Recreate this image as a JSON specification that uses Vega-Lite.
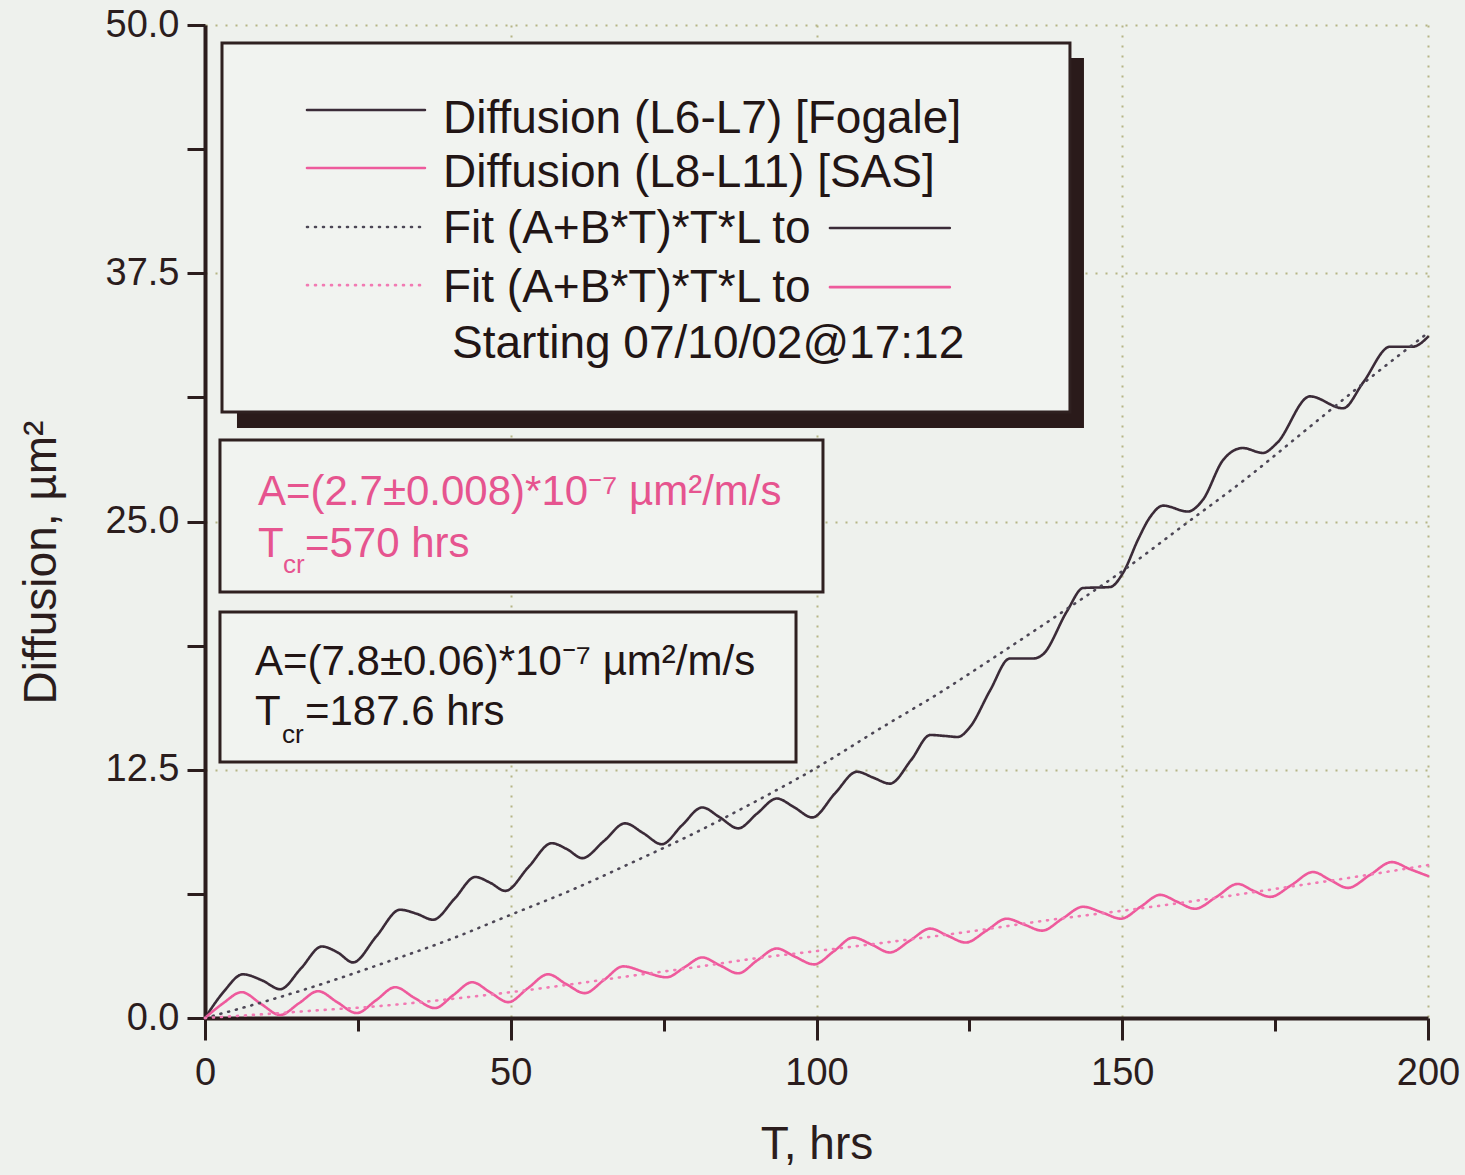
{
  "$schema": "https://vega.github.io/schema/vega-lite/v6.json",
  "width": 1223,
  "height": 993,
  "autosize": "none",
  "padding": {"left": 205, "top": 25, "right": 37, "bottom": 157},
  "background": "#eef1ed",
  "config": {"view": {"stroke": null}, "font": "Liberation Sans"},
  "datasets": {
    "shadow": [{"x1": 5.23, "x2": 143.74, "y1": 48.34, "y2": 29.71}],
    "boxes": [
      {"x1": 2.78, "x2": 141.45, "y1": 49.09, "y2": 30.51},
      {"x1": 2.45, "x2": 101.06, "y1": 29.1, "y2": 21.45},
      {"x1": 2.45, "x2": 96.65, "y1": 20.44, "y2": 12.89}
    ],
    "curves": [
      {"T": 0, "D": 0, "s": "L6-L7"},
      {"T": 3, "D": 1.3, "s": "L6-L7"},
      {"T": 6.2, "D": 2.2, "s": "L6-L7"},
      {"T": 9.3, "D": 1.9, "s": "L6-L7"},
      {"T": 12.3, "D": 1.45, "s": "L6-L7"},
      {"T": 15.7, "D": 2.5, "s": "L6-L7"},
      {"T": 19.1, "D": 3.6, "s": "L6-L7"},
      {"T": 21.7, "D": 3.3, "s": "L6-L7"},
      {"T": 24.2, "D": 2.8, "s": "L6-L7"},
      {"T": 28, "D": 4.1, "s": "L6-L7"},
      {"T": 31.9, "D": 5.45, "s": "L6-L7"},
      {"T": 34.6, "D": 5.25, "s": "L6-L7"},
      {"T": 37.3, "D": 4.95, "s": "L6-L7"},
      {"T": 40.8, "D": 6.0, "s": "L6-L7"},
      {"T": 44.2, "D": 7.1, "s": "L6-L7"},
      {"T": 46.7, "D": 6.8, "s": "L6-L7"},
      {"T": 49.1, "D": 6.4, "s": "L6-L7"},
      {"T": 52.9, "D": 7.6, "s": "L6-L7"},
      {"T": 56.7, "D": 8.8, "s": "L6-L7"},
      {"T": 59.2, "D": 8.5, "s": "L6-L7"},
      {"T": 61.7, "D": 8.05, "s": "L6-L7"},
      {"T": 65.2, "D": 8.9, "s": "L6-L7"},
      {"T": 68.7, "D": 9.8, "s": "L6-L7"},
      {"T": 71.7, "D": 9.3, "s": "L6-L7"},
      {"T": 74.7, "D": 8.75, "s": "L6-L7"},
      {"T": 78, "D": 9.7, "s": "L6-L7"},
      {"T": 81.3, "D": 10.6, "s": "L6-L7"},
      {"T": 84.2, "D": 10.1, "s": "L6-L7"},
      {"T": 87.2, "D": 9.55, "s": "L6-L7"},
      {"T": 90.3, "D": 10.3, "s": "L6-L7"},
      {"T": 93.5, "D": 11.05, "s": "L6-L7"},
      {"T": 96.4, "D": 10.6, "s": "L6-L7"},
      {"T": 99.3, "D": 10.1, "s": "L6-L7"},
      {"T": 103, "D": 11.3, "s": "L6-L7"},
      {"T": 106.6, "D": 12.4, "s": "L6-L7"},
      {"T": 109.3, "D": 12.1, "s": "L6-L7"},
      {"T": 112, "D": 11.8, "s": "L6-L7"},
      {"T": 115.5, "D": 13.0, "s": "L6-L7"},
      {"T": 118.6, "D": 14.25, "s": "L6-L7"},
      {"T": 121, "D": 14.2, "s": "L6-L7"},
      {"T": 123.1, "D": 14.15, "s": "L6-L7"},
      {"T": 125.1, "D": 14.65, "s": "L6-L7"},
      {"T": 128.4, "D": 16.5, "s": "L6-L7"},
      {"T": 131.6, "D": 18.1, "s": "L6-L7"},
      {"T": 135.4, "D": 18.1, "s": "L6-L7"},
      {"T": 137, "D": 18.3, "s": "L6-L7"},
      {"T": 141, "D": 20.5, "s": "L6-L7"},
      {"T": 143.6, "D": 21.65, "s": "L6-L7"},
      {"T": 148, "D": 21.7, "s": "L6-L7"},
      {"T": 150.2, "D": 22.45, "s": "L6-L7"},
      {"T": 152.6, "D": 24.1, "s": "L6-L7"},
      {"T": 154.5, "D": 25.2, "s": "L6-L7"},
      {"T": 156.7, "D": 25.8, "s": "L6-L7"},
      {"T": 160.7, "D": 25.5, "s": "L6-L7"},
      {"T": 163.2, "D": 26.1, "s": "L6-L7"},
      {"T": 166.5, "D": 28.1, "s": "L6-L7"},
      {"T": 169.7, "D": 28.7, "s": "L6-L7"},
      {"T": 173, "D": 28.45, "s": "L6-L7"},
      {"T": 175.3, "D": 28.95, "s": "L6-L7"},
      {"T": 180.7, "D": 31.3, "s": "L6-L7"},
      {"T": 186.1, "D": 30.7, "s": "L6-L7"},
      {"T": 189.4, "D": 32.0, "s": "L6-L7"},
      {"T": 193.8, "D": 33.8, "s": "L6-L7"},
      {"T": 197.5, "D": 33.8, "s": "L6-L7"},
      {"T": 200, "D": 34.3, "s": "L6-L7"},

      {"T": 0, "D": 0, "s": "L8-L11"},
      {"T": 3, "D": 0.75, "s": "L8-L11"},
      {"T": 6.0, "D": 1.3, "s": "L8-L11"},
      {"T": 9.2, "D": 0.7, "s": "L8-L11"},
      {"T": 12.3, "D": 0.15, "s": "L8-L11"},
      {"T": 15.4, "D": 0.75, "s": "L8-L11"},
      {"T": 18.5, "D": 1.35, "s": "L8-L11"},
      {"T": 21.6, "D": 0.8, "s": "L8-L11"},
      {"T": 24.8, "D": 0.25, "s": "L8-L11"},
      {"T": 28, "D": 0.9, "s": "L8-L11"},
      {"T": 31.1, "D": 1.55, "s": "L8-L11"},
      {"T": 34.3, "D": 1.0, "s": "L8-L11"},
      {"T": 37.6, "D": 0.5, "s": "L8-L11"},
      {"T": 40.6, "D": 1.15, "s": "L8-L11"},
      {"T": 43.7, "D": 1.8, "s": "L8-L11"},
      {"T": 46.6, "D": 1.3, "s": "L8-L11"},
      {"T": 49.6, "D": 0.8, "s": "L8-L11"},
      {"T": 52.8, "D": 1.5, "s": "L8-L11"},
      {"T": 56.1, "D": 2.2, "s": "L8-L11"},
      {"T": 59.1, "D": 1.7, "s": "L8-L11"},
      {"T": 62.1, "D": 1.25, "s": "L8-L11"},
      {"T": 65.2, "D": 1.9, "s": "L8-L11"},
      {"T": 68.4, "D": 2.6, "s": "L8-L11"},
      {"T": 72, "D": 2.3, "s": "L8-L11"},
      {"T": 75.5, "D": 2.05, "s": "L8-L11"},
      {"T": 78.4, "D": 2.55, "s": "L8-L11"},
      {"T": 81.3, "D": 3.05, "s": "L8-L11"},
      {"T": 84.2, "D": 2.65, "s": "L8-L11"},
      {"T": 87.2, "D": 2.25, "s": "L8-L11"},
      {"T": 90.3, "D": 2.9, "s": "L8-L11"},
      {"T": 93.5, "D": 3.5, "s": "L8-L11"},
      {"T": 96.4, "D": 3.1, "s": "L8-L11"},
      {"T": 99.6, "D": 2.7, "s": "L8-L11"},
      {"T": 102.8, "D": 3.35, "s": "L8-L11"},
      {"T": 106, "D": 4.05, "s": "L8-L11"},
      {"T": 109, "D": 3.7, "s": "L8-L11"},
      {"T": 112, "D": 3.3, "s": "L8-L11"},
      {"T": 115.3, "D": 3.9, "s": "L8-L11"},
      {"T": 118.6, "D": 4.5, "s": "L8-L11"},
      {"T": 121.4, "D": 4.15, "s": "L8-L11"},
      {"T": 124.4, "D": 3.8, "s": "L8-L11"},
      {"T": 127.8, "D": 4.4, "s": "L8-L11"},
      {"T": 131.1, "D": 5.0, "s": "L8-L11"},
      {"T": 134, "D": 4.7, "s": "L8-L11"},
      {"T": 136.9, "D": 4.4, "s": "L8-L11"},
      {"T": 140.2, "D": 5.0, "s": "L8-L11"},
      {"T": 143.6, "D": 5.6, "s": "L8-L11"},
      {"T": 146.8, "D": 5.3, "s": "L8-L11"},
      {"T": 149.8, "D": 5.0, "s": "L8-L11"},
      {"T": 153, "D": 5.6, "s": "L8-L11"},
      {"T": 156.2, "D": 6.2, "s": "L8-L11"},
      {"T": 159, "D": 5.85, "s": "L8-L11"},
      {"T": 161.9, "D": 5.5, "s": "L8-L11"},
      {"T": 165.4, "D": 6.1, "s": "L8-L11"},
      {"T": 168.9, "D": 6.75, "s": "L8-L11"},
      {"T": 171.5, "D": 6.4, "s": "L8-L11"},
      {"T": 174.2, "D": 6.1, "s": "L8-L11"},
      {"T": 177.7, "D": 6.7, "s": "L8-L11"},
      {"T": 181.2, "D": 7.35, "s": "L8-L11"},
      {"T": 184, "D": 6.95, "s": "L8-L11"},
      {"T": 186.9, "D": 6.55, "s": "L8-L11"},
      {"T": 190.5, "D": 7.2, "s": "L8-L11"},
      {"T": 194.1, "D": 7.85, "s": "L8-L11"},
      {"T": 197, "D": 7.5, "s": "L8-L11"},
      {"T": 200, "D": 7.15, "s": "L8-L11"},

      {"T": 0, "D": 0, "s": "FitL6-L7"},
      {"T": 10, "D": 0.85, "s": "FitL6-L7"},
      {"T": 20, "D": 1.8, "s": "FitL6-L7"},
      {"T": 30, "D": 2.85, "s": "FitL6-L7"},
      {"T": 40, "D": 3.95, "s": "FitL6-L7"},
      {"T": 50, "D": 5.2, "s": "FitL6-L7"},
      {"T": 60, "D": 6.45, "s": "FitL6-L7"},
      {"T": 70, "D": 7.85, "s": "FitL6-L7"},
      {"T": 80, "D": 9.3, "s": "FitL6-L7"},
      {"T": 90, "D": 10.9, "s": "FitL6-L7"},
      {"T": 100, "D": 12.6, "s": "FitL6-L7"},
      {"T": 110, "D": 14.5, "s": "FitL6-L7"},
      {"T": 120, "D": 16.35, "s": "FitL6-L7"},
      {"T": 130, "D": 18.35, "s": "FitL6-L7"},
      {"T": 140, "D": 20.4, "s": "FitL6-L7"},
      {"T": 150, "D": 22.5, "s": "FitL6-L7"},
      {"T": 160, "D": 24.8, "s": "FitL6-L7"},
      {"T": 170, "D": 27.1, "s": "FitL6-L7"},
      {"T": 180, "D": 29.6, "s": "FitL6-L7"},
      {"T": 190, "D": 32.1, "s": "FitL6-L7"},
      {"T": 200, "D": 34.5, "s": "FitL6-L7"},

      {"T": 0, "D": 0, "s": "FitL8-L11"},
      {"T": 10, "D": 0.2, "s": "FitL8-L11"},
      {"T": 20, "D": 0.42, "s": "FitL8-L11"},
      {"T": 26.5, "D": 0.55, "s": "FitL8-L11"},
      {"T": 40, "D": 0.95, "s": "FitL8-L11"},
      {"T": 50, "D": 1.3, "s": "FitL8-L11"},
      {"T": 60, "D": 1.7, "s": "FitL8-L11"},
      {"T": 68, "D": 2.05, "s": "FitL8-L11"},
      {"T": 80, "D": 2.55, "s": "FitL8-L11"},
      {"T": 90, "D": 3.0, "s": "FitL8-L11"},
      {"T": 100, "D": 3.37, "s": "FitL8-L11"},
      {"T": 110, "D": 3.75, "s": "FitL8-L11"},
      {"T": 125, "D": 4.35, "s": "FitL8-L11"},
      {"T": 138, "D": 4.93, "s": "FitL8-L11"},
      {"T": 150, "D": 5.4, "s": "FitL8-L11"},
      {"T": 162, "D": 5.9, "s": "FitL8-L11"},
      {"T": 175, "D": 6.5, "s": "FitL8-L11"},
      {"T": 188, "D": 7.1, "s": "FitL8-L11"},
      {"T": 200, "D": 7.7, "s": "FitL8-L11"}
    ],
    "legendLines": [
      {"x1": 16.68, "x2": 35.97, "y": 45.72, "s": "L6-L7"},
      {"x1": 16.68, "x2": 35.97, "y": 42.8, "s": "L8-L11"},
      {"x1": 16.68, "x2": 35.97, "y": 39.83, "s": "FitL6-L7"},
      {"x1": 16.68, "x2": 35.97, "y": 36.9, "s": "FitL8-L11"},
      {"x1": 102.2, "x2": 121.8, "y": 39.78, "s": "L6-L7"},
      {"x1": 102.2, "x2": 121.8, "y": 36.8, "s": "L8-L11"}
    ],
    "legendText": [
      {"T": 38.92, "D": 44.56, "label": "Diffusion (L6-L7) [Fogale]"},
      {"T": 38.92, "D": 41.84, "label": "Diffusion (L8-L11) [SAS]"},
      {"T": 38.92, "D": 39.02, "label": "Fit (A+B*T)*T*L to"},
      {"T": 38.92, "D": 36.05, "label": "Fit (A+B*T)*T*L to"},
      {"T": 40.4, "D": 33.23, "label": "Starting 07/10/02@17:12"}
    ],
    "pinkText": [
      {"T": 8.67, "D": 25.83, "label": "A=(2.7±0.008)*10⁻⁷ µm²/m/s"},
      {"T": 8.67, "D": 23.2, "label": "T"},
      {"T": 16.35, "D": 23.2, "label": "=570 hrs"}
    ],
    "pinkSub": [
      {"T": 12.76, "D": 22.4, "label": "cr"}
    ],
    "darkText": [
      {"T": 8.18, "D": 17.27, "label": "A=(7.8±0.06)*10⁻⁷ µm²/m/s"},
      {"T": 8.18, "D": 14.75, "label": "T"},
      {"T": 16.35, "D": 14.75, "label": "=187.6 hrs"}
    ],
    "darkSub": [
      {"T": 12.6, "D": 13.85, "label": "cr"}
    ]
  },
  "layer": [
    {
      "data": {"name": "shadow"},
      "mark": {"type": "rect", "fill": "#2a1a1a"},
      "encoding": {
        "x": {
          "field": "x1", "type": "quantitative",
          "scale": {"domain": [0, 200], "nice": false, "zero": false},
          "axis": {
            "title": "T, hrs",
            "values": [0, 25, 50, 75, 100, 125, 150, 175, 200],
            "labelExpr": "datum.value % 50 === 0 ? format(datum.value, 'd') : ''",
            "tickSize": {"condition": {"test": "datum.value % 50 === 0", "value": 22}, "value": 13},
            "tickWidth": 3,
            "tickColor": "#2b1d1d",
            "domainColor": "#2b1d1d",
            "domainWidth": 4,
            "labelFont": "Liberation Sans",
            "labelFontSize": 38,
            "labelColor": "#2b1d1d",
            "labelPadding": 14,
            "labelFlush": false,
            "grid": true,
            "gridColor": "#b5b585",
            "gridDash": [2, 8],
            "gridWidth": 2,
            "gridOpacity": {"condition": {"test": "datum.value % 50 === 0", "value": 1}, "value": 0},
            "titleFont": "Liberation Sans",
            "titleFontSize": 46,
            "titleFontWeight": "normal",
            "titleColor": "#2b1d1d",
            "titlePadding": 30
          }
        },
        "x2": {"field": "x2"},
        "y": {
          "field": "y1", "type": "quantitative",
          "scale": {"domain": [0, 50], "nice": false, "zero": false},
          "axis": {
            "title": "Diffusion, µm²",
            "values": [0, 6.25, 12.5, 18.75, 25, 31.25, 37.5, 43.75, 50],
            "labelExpr": "datum.value % 12.5 === 0 ? format(datum.value, '.1f') : ''",
            "tickSize": 18,
            "tickWidth": 3,
            "tickColor": "#2b1d1d",
            "domainColor": "#2b1d1d",
            "domainWidth": 4,
            "labelFont": "Liberation Sans",
            "labelFontSize": 38,
            "labelColor": "#2b1d1d",
            "labelPadding": 8,
            "labelFlush": false,
            "grid": true,
            "gridColor": "#b5b585",
            "gridDash": [2, 8],
            "gridWidth": 2,
            "gridOpacity": {"condition": {"test": "datum.value % 12.5 === 0 && datum.value > 0", "value": 1}, "value": 0},
            "titleFont": "Liberation Sans",
            "titleFontSize": 46,
            "titleFontWeight": "normal",
            "titleColor": "#2b1d1d",
            "titlePadding": 40,
            "titleY": 537
          }
        },
        "y2": {"field": "y2"}
      }
    },
    {
      "data": {"name": "boxes"},
      "mark": {"type": "rect", "fill": "#f1f3f0", "stroke": "#2f2020", "strokeWidth": 3},
      "encoding": {
        "x": {"field": "x1", "type": "quantitative"},
        "x2": {"field": "x2"},
        "y": {"field": "y1", "type": "quantitative"},
        "y2": {"field": "y2"}
      }
    },
    {
      "data": {"name": "curves"},
      "mark": {"type": "line", "interpolate": "monotone", "strokeWidth": 2.6, "strokeCap": "round"},
      "encoding": {
        "x": {"field": "T", "type": "quantitative"},
        "y": {"field": "D", "type": "quantitative"},
        "color": {
          "field": "s", "type": "nominal", "legend": null,
          "scale": {"domain": ["L6-L7", "L8-L11", "FitL6-L7", "FitL8-L11"], "range": ["#3b2b38", "#ee5a9c", "#4d4756", "#f27ab3"]}
        },
        "strokeDash": {
          "field": "s", "type": "nominal", "legend": null,
          "scale": {"domain": ["L6-L7", "L8-L11", "FitL6-L7", "FitL8-L11"], "range": [[1, 0], [1, 0], [1, 7], [1, 7]]}
        }
      }
    },
    {
      "data": {"name": "legendLines"},
      "mark": {"type": "rule", "strokeWidth": 2.6, "strokeCap": "round"},
      "encoding": {
        "x": {"field": "x1", "type": "quantitative"},
        "x2": {"field": "x2"},
        "y": {"field": "y", "type": "quantitative"},
        "color": {"field": "s", "type": "nominal", "legend": null},
        "strokeDash": {"field": "s", "type": "nominal", "legend": null}
      }
    },
    {
      "data": {"name": "legendText"},
      "mark": {"type": "text", "align": "left", "baseline": "alphabetic", "font": "Liberation Sans", "fontSize": 46, "color": "#221515"},
      "encoding": {
        "x": {"field": "T", "type": "quantitative"},
        "y": {"field": "D", "type": "quantitative"},
        "text": {"field": "label"}
      }
    },
    {
      "data": {"name": "pinkText"},
      "mark": {"type": "text", "align": "left", "baseline": "alphabetic", "font": "Liberation Sans", "fontSize": 42, "color": "#e6548f"},
      "encoding": {
        "x": {"field": "T", "type": "quantitative"},
        "y": {"field": "D", "type": "quantitative"},
        "text": {"field": "label"}
      }
    },
    {
      "data": {"name": "pinkSub"},
      "mark": {"type": "text", "align": "left", "baseline": "alphabetic", "font": "Liberation Sans", "fontSize": 26, "color": "#e6548f"},
      "encoding": {
        "x": {"field": "T", "type": "quantitative"},
        "y": {"field": "D", "type": "quantitative"},
        "text": {"field": "label"}
      }
    },
    {
      "data": {"name": "darkText"},
      "mark": {"type": "text", "align": "left", "baseline": "alphabetic", "font": "Liberation Sans", "fontSize": 42, "color": "#221515"},
      "encoding": {
        "x": {"field": "T", "type": "quantitative"},
        "y": {"field": "D", "type": "quantitative"},
        "text": {"field": "label"}
      }
    },
    {
      "data": {"name": "darkSub"},
      "mark": {"type": "text", "align": "left", "baseline": "alphabetic", "font": "Liberation Sans", "fontSize": 26, "color": "#221515"},
      "encoding": {
        "x": {"field": "T", "type": "quantitative"},
        "y": {"field": "D", "type": "quantitative"},
        "text": {"field": "label"}
      }
    }
  ]
}
